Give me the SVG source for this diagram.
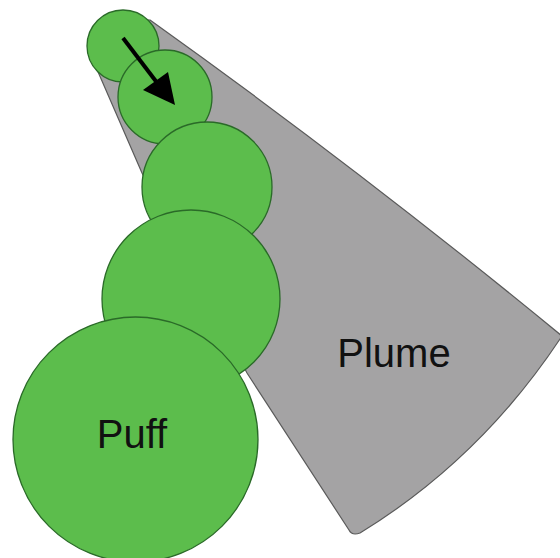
<svg xmlns="http://www.w3.org/2000/svg" width="560" height="558" viewBox="0 0 560 558">
<defs>
<style>
.puff{fill:#5cbd4c;stroke:#2a6a28;stroke-width:1.3}
.lbl{font-family:"Liberation Sans",Arial,sans-serif;font-size:40px;fill:#111}
</style>
</defs>
<rect width="560" height="558" fill="#fff"/>
<g id="plume">
<path d="M92,58 L110,20 L150,20 Q360,170 562,336 Q481,459 360,533 Q352,536 349,530 L247,373 L142,173 Z" fill="#a4a3a4" stroke="#5a5a5a" stroke-width="1.2" stroke-linejoin="round"/>
<text class="lbl" x="394" y="367" text-anchor="middle">Plume</text>
</g>
<g id="puffs">
<circle id="puff1" class="puff" cx="123" cy="46" r="36"/>
<circle id="puff2" class="puff" cx="165" cy="97" r="47"/>
<circle id="puff3" class="puff" cx="207" cy="187" r="65"/>
<circle id="puff4" class="puff" cx="191" cy="299" r="89"/>
<g id="puff5">
<circle class="puff" cx="135.5" cy="439.5" r="122.5"/>
<text class="lbl" x="132" y="448" text-anchor="middle">Puff</text>
</g>
</g>
<g id="connectors">
<line x1="123" y1="38" x2="158" y2="84" stroke="#000" stroke-width="4"/>
<path d="M175,105 L143,90 L168,72 Z" fill="#000"/>
</g>
</svg>
